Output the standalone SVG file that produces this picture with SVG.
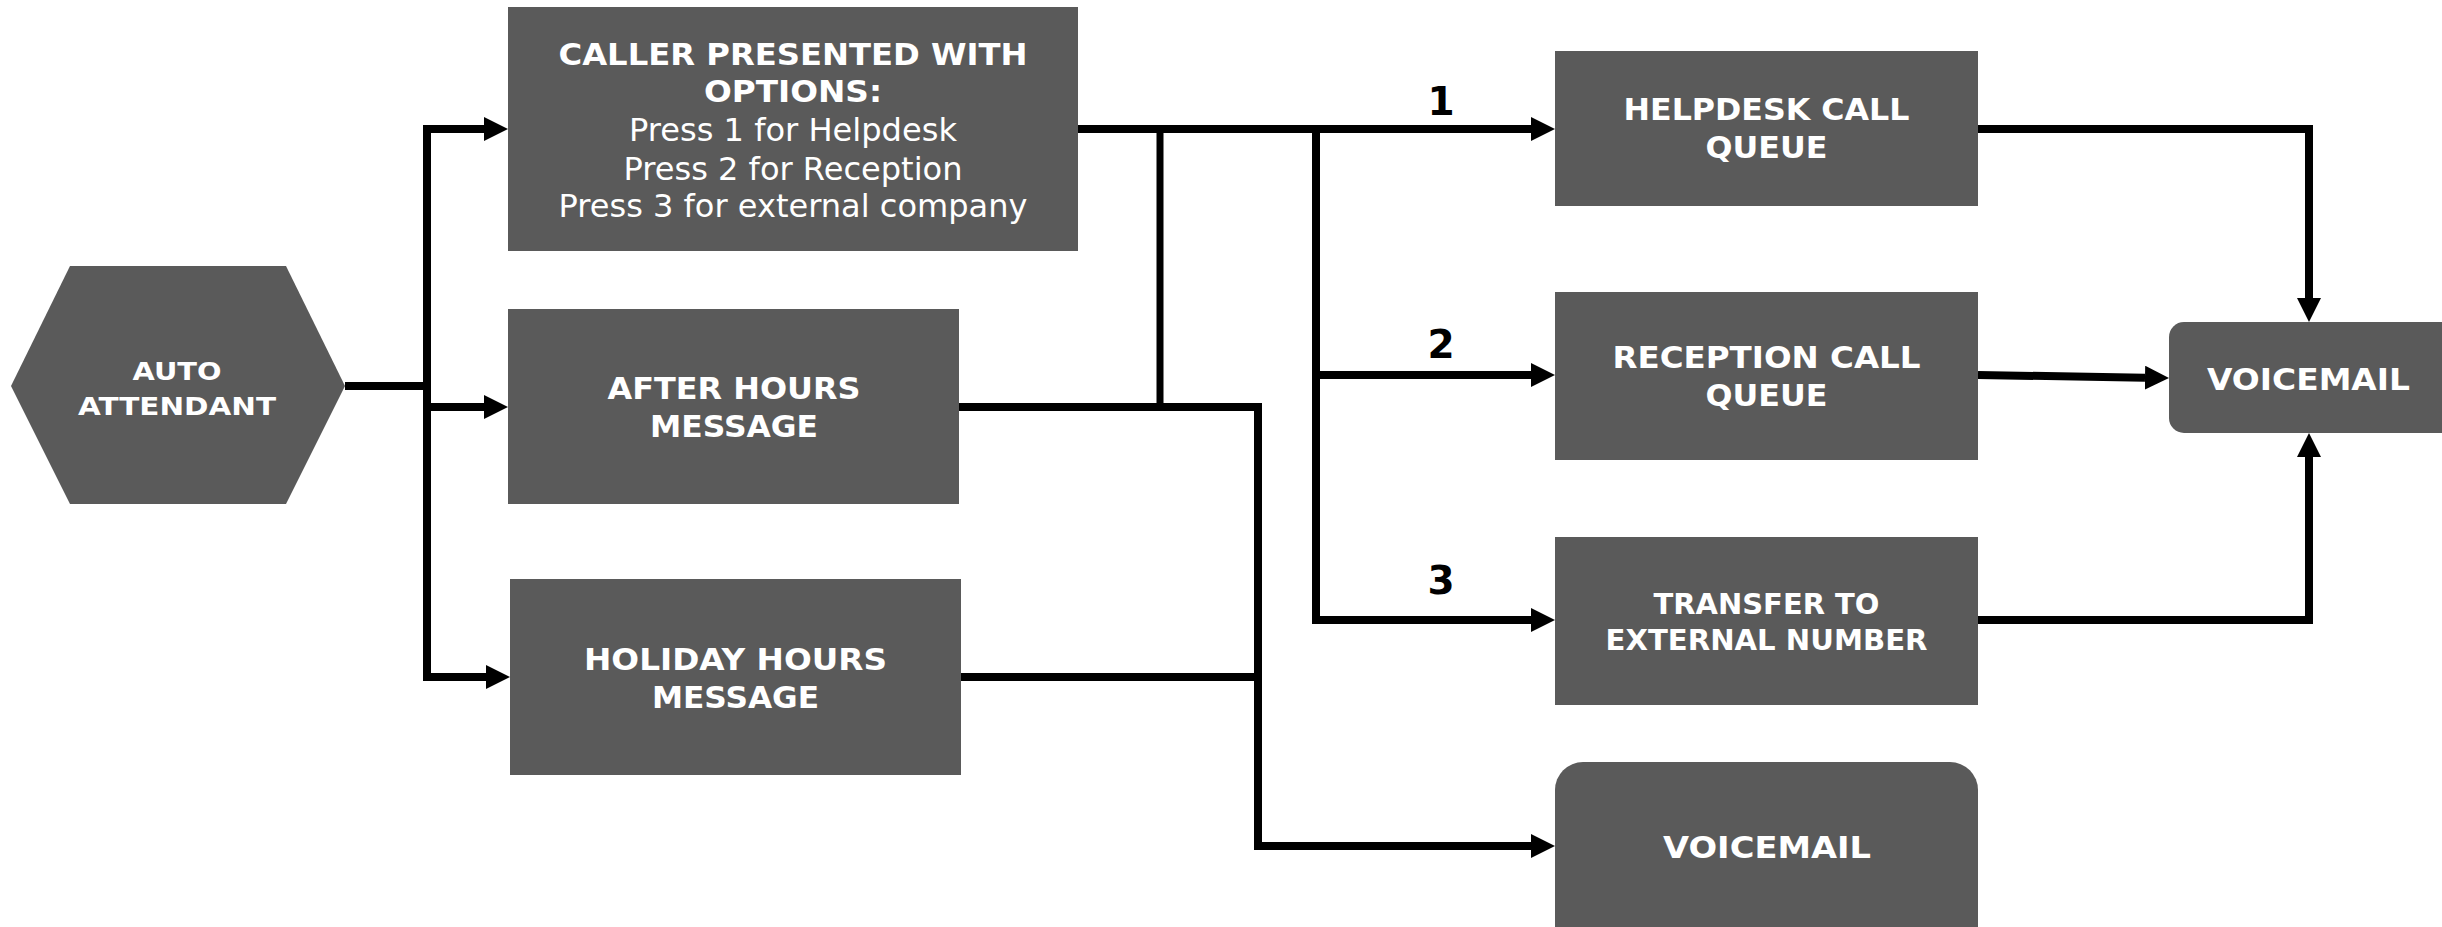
<svg xmlns="http://www.w3.org/2000/svg" width="2442" height="927" viewBox="0 0 2442 927">
<style>
.node{fill:#5a5a5a}
.t{font-family:"DejaVu Sans",Verdana,sans-serif;fill:#ffffff;text-anchor:middle}
.b{font-weight:bold;font-size:31px}
.r{font-weight:normal;font-size:32.5px}
.lbl{font-family:"DejaVu Sans",Verdana,sans-serif;font-weight:bold;font-size:39px;fill:#000;text-anchor:middle}
.c{fill:none;stroke:#000;stroke-width:8;stroke-linejoin:miter;stroke-linecap:butt}
</style>
<defs>
<marker id="ah" markerUnits="userSpaceOnUse" markerWidth="24" markerHeight="24" refX="0" refY="12" orient="auto" viewBox="0 0 24 24">
<path d="M0,0 L24,12 L0,24 z" fill="#000"/>
</marker>
</defs>
<g id="connectors">
<path class="c" d="M345,386 H427"/>
<path class="c" d="M427,677 V129 H484" marker-end="url(#ah)"/>
<path class="c" d="M427,129 V677 H486" marker-end="url(#ah)"/>
<path class="c" d="M427,407 H484" marker-end="url(#ah)"/>
<path class="c" d="M1078,129 H1531" marker-end="url(#ah)"/>
<path class="c" d="M1160,129 V407" style="stroke-width:7"/>
<path class="c" d="M959,407 H1258 V846 H1531" marker-end="url(#ah)"/>
<path class="c" d="M961,677 H1258"/>
<path class="c" d="M1316,129 V620 H1531" marker-end="url(#ah)"/>
<path class="c" d="M1316,375 H1531" marker-end="url(#ah)"/>
<path class="c" d="M1978,129 H2309 V298" marker-end="url(#ah)"/>
<path class="c" d="M1978,375 L2145,377.7" marker-end="url(#ah)"/>
<path class="c" d="M1978,620 H2309 V457" marker-end="url(#ah)"/>
<text class="lbl" x="1441" y="115">1</text>
<text class="lbl" x="1441" y="358">2</text>
<text class="lbl" x="1441" y="594">3</text>
</g>
<g id="auto-attendant">
<polygon class="node" points="11,386 70,266 286,266 345,386 286,504 70,504"/>
<text class="t" style="font-weight:bold;font-size:25px" x="177" y="380" textLength="89" lengthAdjust="spacingAndGlyphs">AUTO</text>
<text class="t" style="font-weight:bold;font-size:25px" x="177" y="415" textLength="198" lengthAdjust="spacingAndGlyphs">ATTENDANT</text>
</g>
<g id="caller-options">
<rect class="node" x="508" y="7" width="570" height="244"/>
<text class="t b" x="793" y="65" textLength="469" lengthAdjust="spacingAndGlyphs">CALLER PRESENTED WITH</text>
<text class="t b" x="793" y="102" textLength="178" lengthAdjust="spacingAndGlyphs">OPTIONS:</text>
<text class="t r" x="793" y="141" textLength="328" lengthAdjust="spacingAndGlyphs">Press 1 for Helpdesk</text>
<text class="t r" x="793" y="180" textLength="339" lengthAdjust="spacingAndGlyphs">Press 2 for Reception</text>
<text class="t r" x="793" y="217" textLength="469" lengthAdjust="spacingAndGlyphs">Press 3 for external company</text>
</g>
<g id="after-hours">
<rect class="node" x="508" y="309" width="451" height="195"/>
<text class="t b" x="734" y="399" textLength="253" lengthAdjust="spacingAndGlyphs">AFTER HOURS</text>
<text class="t b" x="734" y="437" textLength="168" lengthAdjust="spacingAndGlyphs">MESSAGE</text>
</g>
<g id="holiday-hours">
<rect class="node" x="510" y="579" width="451" height="196"/>
<text class="t b" x="735.5" y="670" textLength="303" lengthAdjust="spacingAndGlyphs">HOLIDAY HOURS</text>
<text class="t b" x="735.5" y="708" textLength="167" lengthAdjust="spacingAndGlyphs">MESSAGE</text>
</g>
<g id="helpdesk-queue">
<rect class="node" x="1555" y="51" width="423" height="155"/>
<text class="t b" x="1766.5" y="120" textLength="286" lengthAdjust="spacingAndGlyphs">HELPDESK CALL</text>
<text class="t b" x="1766.5" y="158" textLength="122" lengthAdjust="spacingAndGlyphs">QUEUE</text>
</g>
<g id="reception-queue">
<rect class="node" x="1555" y="292" width="423" height="168"/>
<text class="t b" x="1766.5" y="368" textLength="308" lengthAdjust="spacingAndGlyphs">RECEPTION CALL</text>
<text class="t b" x="1766.5" y="406" textLength="122" lengthAdjust="spacingAndGlyphs">QUEUE</text>
</g>
<g id="transfer-external">
<rect class="node" x="1555" y="537" width="423" height="168"/>
<text class="t b" style="font-size:29px" x="1766.5" y="614" textLength="226" lengthAdjust="spacingAndGlyphs">TRANSFER TO</text>
<text class="t b" style="font-size:29px" x="1766.5" y="650" textLength="322" lengthAdjust="spacingAndGlyphs">EXTERNAL NUMBER</text>
</g>
<g id="voicemail-right">
<rect class="node" x="2169" y="322" width="290" height="111" rx="15" ry="15"/>
<text class="t b" x="2308.5" y="390" textLength="203" lengthAdjust="spacingAndGlyphs">VOICEMAIL</text>
</g>
<g id="voicemail-bottom">
<rect class="node" x="1555" y="762" width="423" height="200" rx="28" ry="28"/>
<text class="t b" x="1767" y="858" textLength="208" lengthAdjust="spacingAndGlyphs">VOICEMAIL</text>
</g>
</svg>
